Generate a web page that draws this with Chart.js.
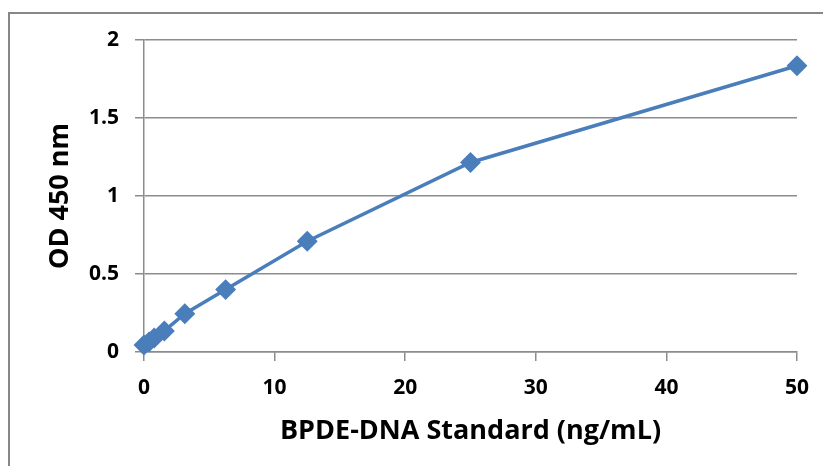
<!DOCTYPE html>
<html><head><meta charset="utf-8">
<script src="https://cdn.jsdelivr.net/npm/chart.js@4"></script>
<style>html,body{margin:0;padding:0;background:#fff;}#wrap{width:823px;height:466px;position:relative;}</style>
</head><body><div id="wrap"><canvas id="c" width="823" height="466"></canvas></div>
<script>
const concentrations = [0, 0.39, 0.78, 1.56, 3.125, 6.25, 12.5, 25, 50];
const odValues = [0.045, 0.065, 0.09, 0.135, 0.245, 0.40, 0.71, 1.215, 1.835];
const xTicks = [0, 10, 20, 30, 40, 50];
const yTicks = [0, 0.5, 1, 1.5, 2];
const xTitle = 'BPDE-DNA Standard (ng/mL)';
const yTitle = 'OD 450 nm';

const borderPlugin = {
  id: 'frame',
  afterDraw(chart) {
    const ctx = chart.ctx;
    ctx.save();
    ctx.strokeStyle = '#878787';
    ctx.lineWidth = 2;
    ctx.beginPath();
    ctx.moveTo(9, 466); ctx.lineTo(9, 13); ctx.lineTo(823, 13);
    ctx.stroke();
    ctx.restore();
  }
};

const tickFont = {family: "'Open Sans', sans-serif", size: 21, weight: 'bold'};
const titleFont = {family: "'Open Sans', sans-serif", size: 27, weight: 'bold'};

new Chart(document.getElementById('c'), {
  type: 'scatter',
  data: {
    datasets: [{
      data: concentrations.map((x, i) => ({x, y: odValues[i]})),
      showLine: true,
      clip: false,
      borderColor: '#4a7ebb',
      backgroundColor: '#4a7ebb',
      borderWidth: 3.5,
      pointStyle: 'rectRot',
      pointRadius: 8,
      pointHoverRadius: 8,
      tension: 0
    }]
  },
  options: {
    responsive: false,
    animation: false,
    layout: {padding: {left: 0, top: 40, right: 26, bottom: 0}},
    plugins: {legend: {display: false}, tooltip: {enabled: false}},
    scales: {
      x: {
        type: 'linear', min: 0, max: 50,
        afterBuildTicks(s) { s.ticks = xTicks.map(v => ({value: v})); },
        afterFit(s) { s.height = 114; },
        border: {color: '#8c8c8c', width: 1.5},
        grid: {display: true, drawOnChartArea: false, drawTicks: true, tickLength: 9, color: '#8c8c8c', lineWidth: 1.5},
        ticks: {color: '#000', font: tickFont, padding: 14, maxRotation: 0},
        title: {display: true, text: xTitle, color: '#000', font: titleFont, padding: {top: 0, bottom: 18}}
      },
      y: {
        type: 'linear', min: 0, max: 2,
        afterBuildTicks(s) { s.ticks = yTicks.map(v => ({value: v})); },
        afterFit(s) { s.width = 144; },
        border: {color: '#8c8c8c', width: 1.5},
        grid: {display: true, drawOnChartArea: true, drawTicks: true, tickLength: 9, color: '#8c8c8c', lineWidth: 1.5},
        ticks: {color: '#000', font: tickFont, padding: 16, callback: v => String(v)},
        title: {display: true, text: yTitle, color: '#000', font: titleFont, padding: {top: 44, bottom: 0}}
      }
    }
  },
  plugins: [borderPlugin]
});
</script></body></html>
